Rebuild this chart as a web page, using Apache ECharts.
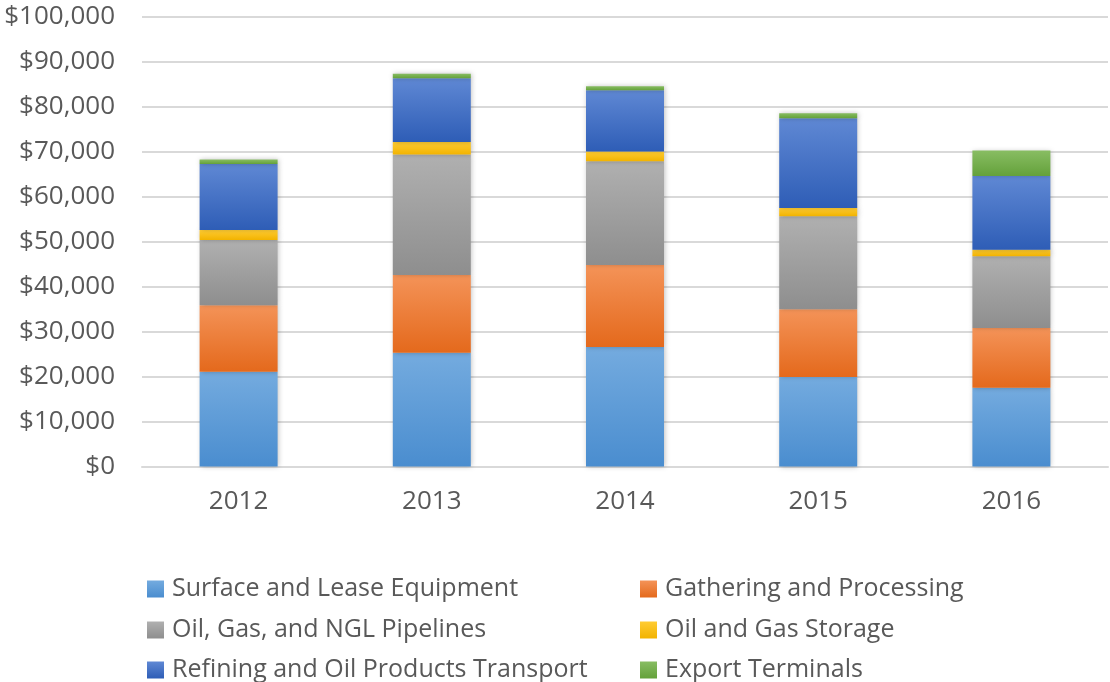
<!DOCTYPE html>
<html>
<head>
<meta charset="utf-8">
<script src="https://cdn.jsdelivr.net/npm/echarts@6/dist/echarts.min.js"></script>
<style>
  html, body { margin: 0; padding: 0; background: #fff; }
  #main { width: 1110px; height: 682px; }
</style>
</head>
<body>
<div id="main"></div>
<script>
var years = ['2012', '2013', '2014', '2015', '2016'];
var seriesNames = ['Surface and Lease Equipment', 'Gathering and Processing', 'Oil, Gas, and NGL Pipelines', 'Oil and Gas Storage', 'Refining and Oil Products Transport', 'Export Terminals'];
var surface = [21100, 25300, 26600, 19900, 17500];
var gathering = [14800, 17300, 18200, 15100, 13300];
var pipelines = [14500, 26800, 23100, 20700, 16000];
var storage = [2200, 2800, 2200, 1800, 1400];
var refining = [14700, 14200, 13600, 20000, 16400];
var exportTerm = [1000, 1000, 900, 1100, 5700];

// top / bottom colours of each gradient fill
var colours = [
    ['#74abdf', '#4a8dcf'],
    ['#f49358', '#e4691c'],
    ['#b0b0b0', '#8e8e8e'],
    ['#ffcc33', '#f2b300'],
    ['#5f88d4', '#2e5db6'],
    ['#88bd63', '#64a13a']
];
var values = [surface, gathering, pipelines, storage, refining, exportTerm];

var font = '"Open Sans", sans-serif';
var myChart = echarts.init(document.getElementById('main'));

var series = seriesNames.map(function (name, i) {
    return {
        name: name,
        type: 'bar',
        stack: 'total',
        barWidth: 78,
        data: values[i],
        itemStyle: {
            color: new echarts.graphic.LinearGradient(0, 0, 0, 1, [
                { offset: 0, color: colours[i][0] },
                { offset: 1, color: colours[i][1] }
            ]),
            shadowBlur: 5,
            shadowColor: 'rgba(0,0,0,0.25)',
            shadowOffsetX: 1
        },
        emphasis: { disabled: true }
    };
});

// legend: two columns x three rows, one small legend per entry
var legendLeft = [147, 640];
var legendRowY = [587, 628, 668];
var legends = seriesNames.map(function (name, i) {
    return {
        left: legendLeft[i % 2],
        top: legendRowY[Math.floor(i / 2)] - 13,
        padding: 0,
        itemWidth: 17, itemHeight: 17, icon: 'rect',
        data: [name],
        textStyle: { color: '#595959', fontSize: 25, fontFamily: font, lineHeight: 30, padding: [0, 0, 0, 3] }
    };
});

var option = {
    animation: false,
    grid: { left: 142, right: 2, top: 17, bottom: 215.5 },
    legend: legends,
    xAxis: {
        type: 'category',
        data: years,
        axisLine: { lineStyle: { color: '#d9d9d9', width: 2 } },
        axisTick: { show: false },
        axisLabel: { color: '#595959', fontSize: 26, fontFamily: font, margin: 22 }
    },
    yAxis: {
        type: 'value',
        min: 0,
        max: 100000,
        interval: 10000,
        axisLine: { show: false },
        axisTick: { show: false },
        splitLine: { lineStyle: { color: '#d9d9d9', width: 2 } },
        axisLabel: {
            color: '#595959', fontSize: 26, fontFamily: font, margin: 27,
            formatter: function (v) { return '$' + v.toLocaleString('en-US'); }
        }
    },
    series: series
};
myChart.setOption(option);
</script>
</body>
</html>
